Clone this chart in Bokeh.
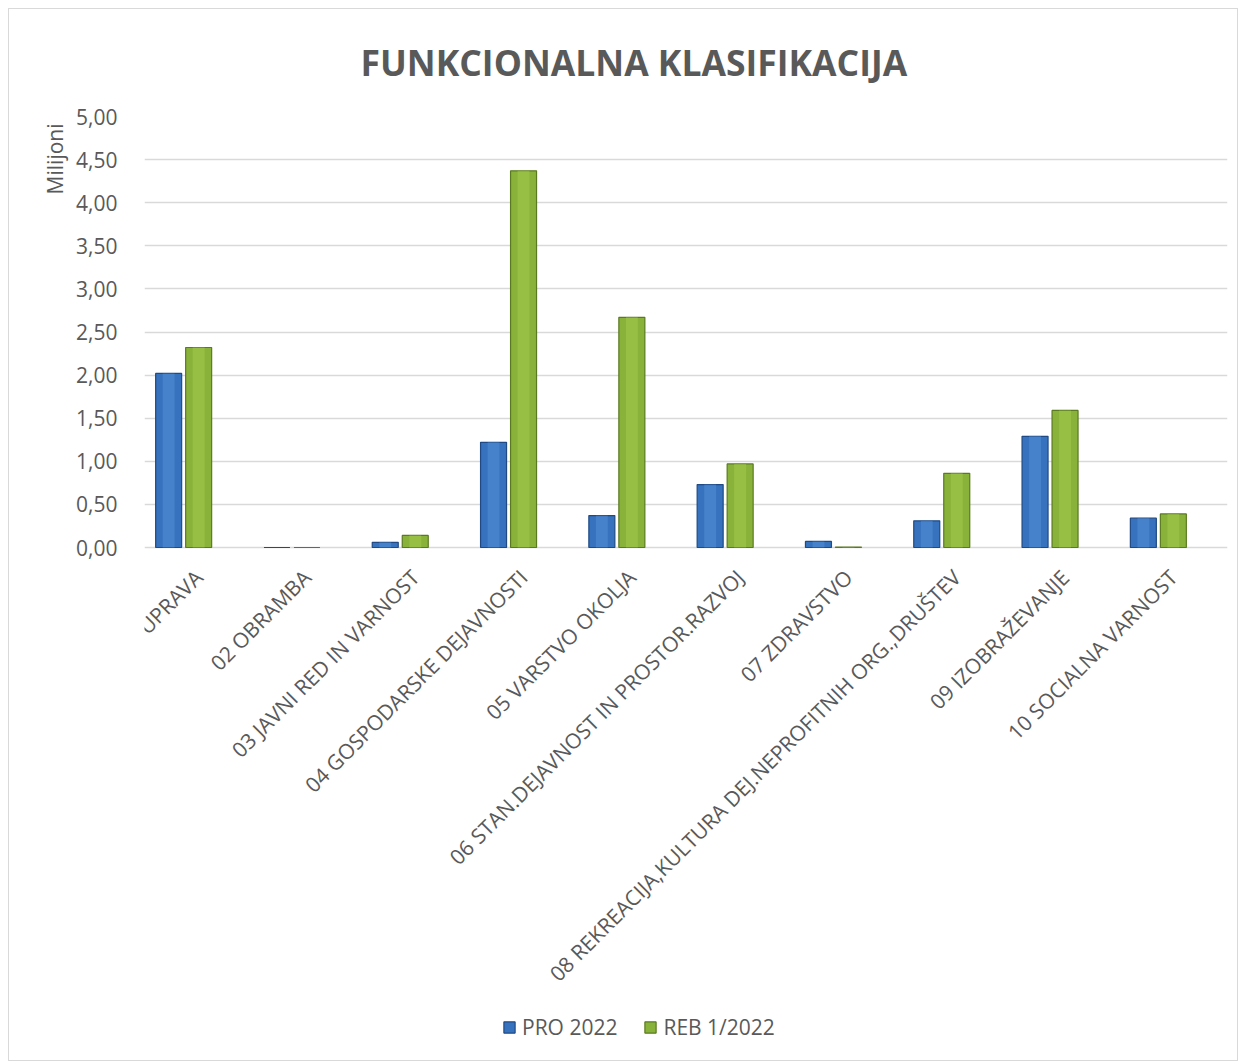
import math
from bokeh.plotting import figure
from bokeh.models import (ColumnDataSource, FactorRange, Range1d, Legend, LegendItem, Title,
                          CustomJSTickFormatter, FixedTicker)
from bokeh.transform import dodge
from bokeh.embed import file_html
from bokeh.resources import INLINE

categories = [
    "O1 JAVNA UPRAVA",
    "02 OBRAMBA",
    "03 JAVNI RED IN VARNOST",
    "04 GOSPODARSKE DEJAVNOSTI",
    "05 VARSTVO OKOLJA",
    "06 STAN.DEJAVNOST IN PROSTOR.RAZVOJ",
    "07 ZDRAVSTVO",
    "08 REKREACIJA,KULTURA DEJ.NEPROFITNIH ORG.,DRUŠTEV",
    "09 IZOBRAŽEVANJE",
    "10 SOCIALNA VARNOST",
]
pro_2022 = [2.02, 0.0, 0.06, 1.22, 0.37, 0.73, 0.07, 0.31, 1.29, 0.34]
reb_2022 = [2.32, 0.0, 0.14, 4.37, 2.67, 0.97, 0.005, 0.86, 1.59, 0.39]
y_ticks = [0.0, 0.5, 1.0, 1.5, 2.0, 2.5, 3.0, 3.5, 4.0, 4.5, 5.0]
series_names = ["PRO 2022", "REB 1/2022"]
title_text = "FUNKCIONALNA KLASIFIKACIJA"
y_label_text = "Milijoni"

FONT = "Open Sans"
TXT = "#595959"

src = ColumnDataSource(dict(cat=categories, pro=pro_2022, reb=reb_2022))

# The frame extends below the value axis so that the legend fits inside it;
# 0..5 keeps 86.2 px per unit.
Y_TOP = 5.0
Y_BOTTOM = Y_TOP - 934 / (431 / 5.0)

p = figure(x_range=FactorRange(*categories, range_padding=0), y_range=Range1d(Y_BOTTOM, Y_TOP),
           width=1228, height=1051, frame_width=1083, frame_height=934,
           min_border_left=135, min_border_right=10, min_border_top=107, min_border_bottom=10,
           output_backend="svg", toolbar_location=None)
p.styles = {"margin": "8px", "border": "1px solid #d9d9d9"}
p.outline_line_color = None
p.background_fill_color = "white"
p.border_fill_color = "white"

r1 = p.vbar(x=dodge("cat", -0.277, range=p.x_range), top="pro", width=0.24, source=src,
            fill_color="#3672bd", line_color="#1f4a85", line_width=1.2)
p.vbar(x=dodge("cat", -0.277, range=p.x_range), top="pro", width=0.11, source=src,
       fill_color="#5a95dc", fill_alpha=0.45, line_color=None)
r2 = p.vbar(x=dodge("cat", 0.0, range=p.x_range), top="reb", width=0.24, source=src,
            fill_color="#89b23a", line_color="#5a7a20", line_width=1.2)
p.vbar(x=dodge("cat", 0.0, range=p.x_range), top="reb", width=0.11, source=src,
       fill_color="#a8cf50", fill_alpha=0.45, line_color=None)

# grid
p.xgrid.grid_line_color = None
p.yaxis.ticker = FixedTicker(ticks=y_ticks)
p.ygrid.grid_line_color = "#d9d9d9"
p.ygrid.grid_line_width = 1.5

# y axis
p.yaxis.axis_line_color = None
p.yaxis.major_tick_line_color = None
p.yaxis.minor_tick_line_color = None
p.yaxis.major_label_standoff = 21
p.yaxis.major_label_text_font = FONT
p.yaxis.major_label_text_font_size = "21px"
p.yaxis.major_label_text_color = TXT
p.yaxis.formatter = CustomJSTickFormatter(code="return tick.toFixed(2).replace('.', ',');")

# category axis pinned to the zero line
p.xaxis.fixed_location = 0
p.xaxis.axis_line_color = None
p.xaxis.major_tick_line_color = None
p.xaxis.minor_tick_line_color = None
p.xaxis.major_label_orientation = math.pi / 4
p.xaxis.major_label_standoff = 20
p.xaxis.major_label_text_font = FONT
p.xaxis.major_label_text_font_size = "21px"
p.xaxis.major_label_text_color = TXT

# chart title
p.add_layout(Title(text=title_text, align="left", offset=216, standoff=57,
                   vertical_align="top",
                   text_font=FONT, text_font_style="bold", text_font_size="35.5px",
                   text_color=TXT), "above")
# y axis label, placed at the top of the axis
p.add_layout(Title(text=y_label_text, align="right", offset=7, standoff=10,
                   text_font=FONT, text_font_style="normal", text_font_size="21px",
                   text_color=TXT), "left")

legend = Legend(items=[LegendItem(label=series_names[0], renderers=[r1]),
                       LegendItem(label=series_names[1], renderers=[r2])],
                orientation="horizontal", location=(358, 9),
                glyph_width=14, glyph_height=14, label_height=21, label_standoff=6,
                spacing=26, padding=0, margin=0, border_line_color=None,
                background_fill_alpha=0,
                label_text_font=FONT, label_text_font_size="21px", label_text_color=TXT)
p.add_layout(legend, "center")

open("out.html", "w").write(file_html(p, INLINE))
